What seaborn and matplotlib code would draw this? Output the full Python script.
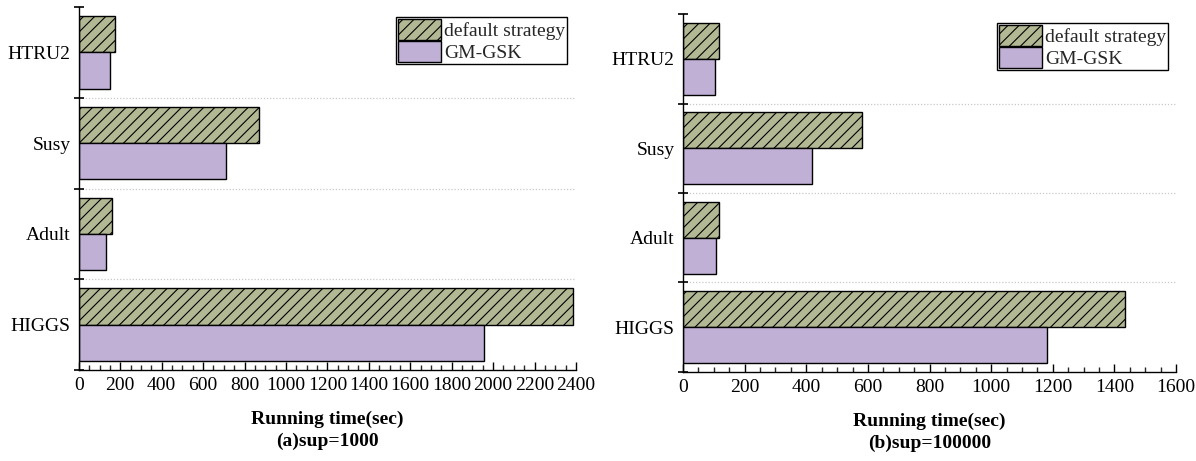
import pandas as pd
import numpy as np
import matplotlib.pyplot as plt
import seaborn as sns
from matplotlib.ticker import MultipleLocator, FixedLocator
from matplotlib.patches import Patch

sns.set_theme(style="white")
plt.rcParams['font.family'] = ['Liberation Serif', 'DejaVu Serif']
plt.rcParams['hatch.linewidth'] = 0.8

datasets = ['HTRU2', 'Susy', 'Adult', 'HIGGS']
strategies = ['default strategy', 'GM-GSK']

# (a) sup=1000
default_a = [175, 872, 160, 2385]
gmgsk_a = [150, 710, 131, 1958]

# (b) sup=100000
default_b = [118, 582, 116, 1436]
gmgsk_b = [104, 418, 108, 1180]

colors = ['#b2b893', '#c0b0d5']
fs = 14


def make_df(d, g):
    return pd.DataFrame({
        'dataset': datasets * 2,
        'strategy': [strategies[0]] * len(datasets) + [strategies[1]] * len(datasets),
        'time': d + g,
    })


fig = plt.figure(figsize=(11.96, 4.61), dpi=100)
ax1 = fig.add_axes([0.0659, 0.1974, 0.4157, 0.7874])
ax2 = fig.add_axes([0.5711, 0.1931, 0.4122, 0.7765])

panels = [
    (ax1, make_df(default_a, gmgsk_a), 2400, '(a)sup=1000', (0.982, 0.972)),
    (ax2, make_df(default_b, gmgsk_b), 1600, '(b)sup=100000', (0.984, 0.975)),
]

for ax, df, xmax, cap, anchor in panels:
    sns.barplot(data=df, x='time', y='dataset', hue='strategy', order=datasets,
                hue_order=strategies, palette=colors, orient='h', width=0.8,
                edgecolor='black', linewidth=1.0, saturation=1, ax=ax, legend=False)
    n = len(datasets)
    for bar in ax.patches[:n]:
        bar.set_hatch('///')

    ax.set_xlim(0, xmax)
    ax.set_ylim(n - 0.5, -0.5)
    ax.xaxis.set_major_locator(MultipleLocator(200))
    ax.xaxis.set_minor_locator(MultipleLocator(50))
    ax.yaxis.set_minor_locator(FixedLocator(np.arange(-0.5, n, 1.0)))
    ax.tick_params(axis='x', which='major', direction='in', length=6, width=1,
                   labelsize=fs, colors='black', bottom=True, pad=5)
    ax.tick_params(axis='x', which='minor', direction='in', length=3.5, width=1,
                   bottom=True)
    ax.tick_params(axis='y', which='major', length=0, labelsize=fs, pad=6,
                   labelcolor='black')
    ax.tick_params(axis='y', which='minor', direction='inout', length=7, width=1.2,
                   left=True, color='black')

    for b in np.arange(0.5, n - 0.5, 1.0):
        ax.axhline(b, color='#c8c8c8', linestyle=(0, (1, 1.5)), linewidth=0.9, zorder=0)

    for s in ['top', 'right']:
        ax.spines[s].set_visible(False)
    for s in ['left', 'bottom']:
        ax.spines[s].set_color('black')
        ax.spines[s].set_linewidth(1.0)

    ax.set_xlabel('Running time(sec)\n' + cap, fontsize=fs, fontweight='bold',
                  labelpad=12, linespacing=1.35, color='black')
    ax.set_ylabel('')

    handles = [Patch(facecolor=colors[0], edgecolor='black', hatch='///', linewidth=1.0),
               Patch(facecolor=colors[1], edgecolor='black', linewidth=1.0)]
    leg = ax.legend(handles, strategies, loc='upper right', bbox_to_anchor=anchor,
                    fontsize=fs, frameon=True, fancybox=False, edgecolor='black',
                    framealpha=1, handlelength=2.2, handleheight=1.3,
                    handletextpad=0.15, labelspacing=0.05, borderpad=0.1,
                    borderaxespad=0)
    leg.get_frame().set_linewidth(1.0)

fig.savefig('out.png', dpi=100)
